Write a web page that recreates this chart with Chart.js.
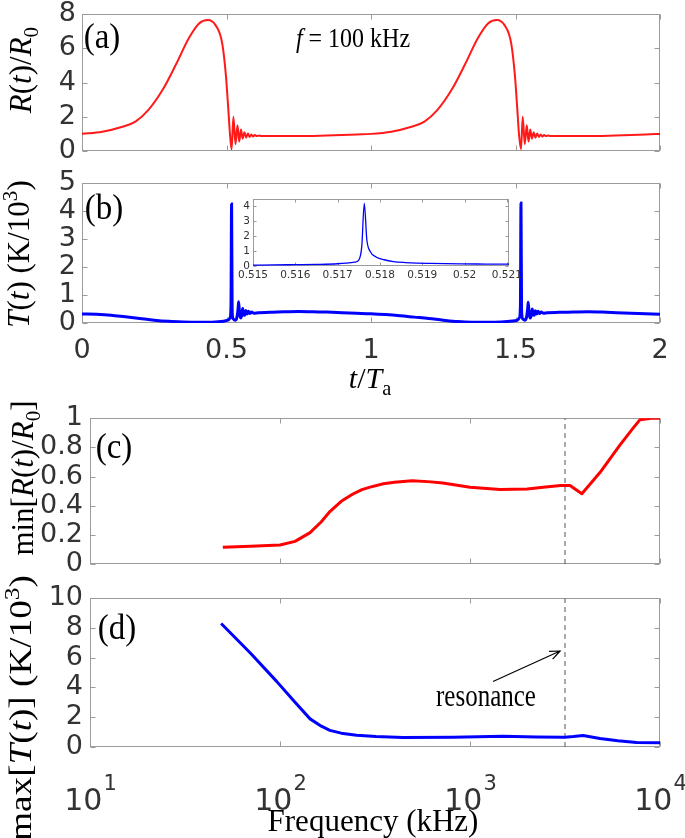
<!DOCTYPE html>
<html><head><meta charset="utf-8">
<script src="https://cdn.jsdelivr.net/npm/chart.js@4.4.1/dist/chart.umd.min.js"></script>
<style>
html,body{margin:0;padding:0;background:#fff;}
#wrap{position:relative;width:685px;height:838px;overflow:hidden;background:#fff;}
canvas{position:absolute;}
.c{position:absolute;white-space:nowrap;font-family:"Liberation Serif","Times New Roman",serif;color:#000;transform:translate(-50%,-50%);line-height:1;}
.r{transform:translate(-50%,-50%) rotate(-90deg);}
.c sub{font-size:0.68em;vertical-align:-0.35em;line-height:0;font-style:normal;}
.c sup{font-size:0.68em;vertical-align:0.55em;line-height:0;}
.c i{font-style:italic;}
</style></head><body><div id="wrap">
<canvas id="cA"></canvas>
<canvas id="cB"></canvas>
<canvas id="cE"></canvas>
<canvas id="cC"></canvas>
<canvas id="cD"></canvas>

<div class="c" style="left:102px;top:36px;font-size:33px;transform:translate(-50%,-50%) scaleY(1.1)">(a)</div>
<div class="c" style="left:104px;top:207px;font-size:33px;transform:translate(-50%,-50%) scaleY(1.1)">(b)</div>
<div class="c" style="left:114px;top:446px;font-size:33px;transform:translate(-50%,-50%) scaleY(1.1)">(c)</div>
<div class="c" style="left:117px;top:627px;font-size:33px;transform:translate(-50%,-50%) scaleY(1.1)">(d)</div>
<div class="c" style="left:353px;top:38px;font-size:24px;transform:translate(-50%,-50%) scaleY(1.15)"><i>f</i> = 100 kHz</div>

<div class="c r" style="left:20px;top:70px;font-size:31px"><i>R</i>(<i>t</i>)/<i>R</i><sub>0</sub></div>
<div class="c r" style="left:18px;top:254px;font-size:31px"><i>T</i>(<i>t</i>) (K/10<sup>3</sup>)</div>
<div class="c r" style="left:22px;top:478px;font-size:31px">min[<i>R</i>(<i>t</i>)/<i>R</i><sub>0</sub>]</div>
<div class="c" style="left:20px;top:708px;font-size:31px;transform:translate(-50%,-50%) rotate(-90deg) scaleX(1.2)">max[<i>T</i>(<i>t</i>)] (K/10<sup>3</sup>)</div>

<div class="c" style="left:370px;top:378px;font-size:30px"><i>t</i>/<i>T</i><sub>a</sub></div>
<div class="c" style="left:373px;top:820px;font-size:31px">Frequency (kHz)</div>
<div class="c" style="left:486px;top:695px;font-size:25px;transform:translate(-50%,-50%) scaleY(1.25)">resonance</div>
</div>
<script>
// ---------- data ----------
// (a) R(t)/R0 versus t/Ta
const tR = [0, 0.07, 0.14, 0.185, 0.23, 0.28, 0.325, 0.37, 0.405, 0.435, 0.462, 0.485, 0.498, 0.506, 0.512, 0.5176,
  0.524, 0.531, 0.538, 0.544, 0.55, 0.556, 0.562, 0.568, 0.574, 0.58, 0.586, 0.592, 0.598, 0.605, 0.612, 0.62, 0.7, 0.8, 0.9, 0.95,
  1.0, 1.07, 1.14, 1.185, 1.23, 1.28, 1.325, 1.37, 1.405, 1.435, 1.462, 1.485, 1.498, 1.506, 1.512, 1.519,
  1.525, 1.532, 1.539, 1.545, 1.551, 1.557, 1.563, 1.569, 1.575, 1.581, 1.587, 1.593, 1.599, 1.606, 1.613, 1.62, 1.7, 1.8, 1.9, 1.95, 2.0];
const R = [1.0, 1.13, 1.42, 1.72, 2.4, 3.6, 5.05, 6.6, 7.45, 7.65, 7.35, 6.3, 4.4, 2.5, 1.0, 0.1,
  2.0, 0.4, 1.5, 0.55, 1.25, 0.72, 1.1, 0.78, 1.02, 0.82, 0.97, 0.85, 0.93, 0.87, 0.9, 0.88, 0.87, 0.88, 0.93, 0.97,
  1.0, 1.13, 1.42, 1.72, 2.4, 3.6, 5.05, 6.6, 7.45, 7.65, 7.35, 6.3, 4.4, 2.5, 1.0, 0.1,
  2.0, 0.4, 1.5, 0.55, 1.25, 0.72, 1.1, 0.78, 1.02, 0.82, 0.97, 0.85, 0.93, 0.87, 0.9, 0.88, 0.87, 0.88, 0.93, 0.97, 1.0];

// (b) T(t) in K/10^3 versus t/Ta
const tT = [0, 0.05, 0.1, 0.15, 0.2, 0.25, 0.3, 0.35, 0.4, 0.45, 0.49, 0.505, 0.512, 0.5155, 0.5176, 0.5195, 0.523, 0.53, 0.536, 0.54, 0.542, 0.545, 0.549, 0.553, 0.556, 0.559, 0.563, 0.567, 0.571, 0.576, 0.581, 0.587, 0.595, 0.61, 0.65, 0.7, 0.75, 0.8, 0.85, 0.9, 0.95,
  1.0, 1.05, 1.1, 1.15, 1.2, 1.25, 1.3, 1.35, 1.4, 1.45, 1.49, 1.506, 1.513, 1.517, 1.519, 1.521, 1.525, 1.532, 1.538, 1.542, 1.544, 1.547, 1.551, 1.555, 1.558, 1.561, 1.565, 1.569, 1.573, 1.578, 1.583, 1.589, 1.597, 1.61, 1.65, 1.7, 1.75, 1.8, 1.85, 1.9, 1.95, 2.0];
const T = [0.32, 0.31, 0.28, 0.22, 0.16, 0.1, 0.06, 0.04, 0.03, 0.03, 0.06, 0.1, 0.18, 0.6, 4.25, 0.45, 0.15, 0.1, 0.2, 0.5, 0.76, 0.35, 0.18, 0.3, 0.52, 0.3, 0.28, 0.45, 0.32, 0.42, 0.34, 0.39, 0.35, 0.37, 0.38, 0.4, 0.41, 0.4, 0.39, 0.37, 0.35,
  0.33, 0.3, 0.26, 0.21, 0.16, 0.1, 0.05, 0.03, 0.03, 0.04, 0.07, 0.1, 0.18, 0.6, 4.29, 0.45, 0.15, 0.1, 0.2, 0.5, 0.74, 0.35, 0.18, 0.3, 0.5, 0.3, 0.28, 0.44, 0.32, 0.42, 0.34, 0.39, 0.35, 0.37, 0.38, 0.39, 0.4, 0.39, 0.37, 0.35, 0.33, 0.31];

// inset: zoom on the first temperature spike
const tInset = [0.515, 0.5155, 0.516, 0.5165, 0.517, 0.5172, 0.5174, 0.5175, 0.51757, 0.51763, 0.51769, 0.51777, 0.51792, 0.5181, 0.51832, 0.5186, 0.51887, 0.5192, 0.5199, 0.5205, 0.52105];
const TInset = [0.06, 0.07, 0.09, 0.11, 0.15, 0.19, 0.26, 0.4, 1.3, 4.2, 1.76, 0.97, 0.59, 0.42, 0.3, 0.23, 0.19, 0.17, 0.14, 0.13, 0.12];

// (c) min[R(t)/R0] versus frequency (kHz)
const freqC = [50, 70, 100, 120, 144, 165, 183, 210, 242, 270, 298, 350, 400, 495, 600, 720, 1000, 1440, 2000, 2500, 3000, 3360, 3880, 4830, 6150, 7200, 7850, 9000, 10000];
const minR = [0.115, 0.122, 0.13, 0.155, 0.215, 0.29, 0.36, 0.43, 0.48, 0.51, 0.527, 0.55, 0.56, 0.571, 0.565, 0.555, 0.527, 0.511, 0.515, 0.528, 0.538, 0.538, 0.482, 0.627, 0.815, 0.93, 0.99, 1.0, 1.0];

// (d) max[T(t)] (K/10^3) versus frequency (kHz)
const freqD = [49, 70, 96, 120, 144, 165, 183, 210, 253, 320, 444, 815, 1490, 2250, 3160, 3500, 3935, 4830, 6000, 7530, 10000];
const maxT = [8.3, 6.3, 4.41, 3.0, 1.89, 1.4, 1.12, 0.93, 0.79, 0.7, 0.64, 0.66, 0.72, 0.68, 0.66, 0.7, 0.77, 0.57, 0.42, 0.31, 0.28];

const resonanceFreq = 3162;
const arrowTail = [1322, 4.4];
const arrowTip = [2980, 6.45];

// ticks
const tTicks = [0, 0.5, 1, 1.5, 2];
const tTickLabels = ['0', '0.5', '1', '1.5', '2'];
const aYTicks = [0, 2, 4, 6, 8];
const aYLabels = ['0', '2', '4', '6', '8'];
const bYTicks = [0, 1, 2, 3, 4, 5];
const bYLabels = ['0', '1', '2', '3', '4', '5'];
const insetXTicks = [0.515, 0.516, 0.517, 0.518, 0.519, 0.52, 0.521];
const insetXLabels = ['0.515', '0.516', '0.517', '0.518', '0.519', '0.52', '0.521'];
const insetYTicks = [0, 1, 2, 3, 4];
const insetYLabels = ['0', '1', '2', '3', '4'];
const cYTicks = [0, 0.2, 0.4, 0.6, 0.8, 1];
const cYLabels = ['0', '0.2', '0.4', '0.6', '0.8', '1'];
const dYTicks = [0, 2, 4, 6, 8, 10];
const dYLabels = ['0', '2', '4', '6', '8', '10'];
const freqTicks = [10, 100, 1000, 10000];
const freqTickBase = ['10', '10', '10', '10'];
const freqTickExp = ['1', '2', '3', '4'];

// ---------- helpers ----------
const pts = (xs, ys) => xs.map((x, i) => ({x: x, y: ys[i]}));

const boxPlugin = {id: 'box', beforeDatasetsDraw(chart, args, o) {
  const {ctx, chartArea: a, scales} = chart;
  const x = scales.x, y = scales.y;
  ctx.save();
  ctx.strokeStyle = o.color; ctx.lineWidth = o.width;
  const l = Math.round(a.left) + 0.5, r = Math.round(a.right) - 0.5, t = Math.round(a.top) + 0.5, b = Math.round(a.bottom) - 0.5;
  ctx.strokeRect(l, t, r - l, b - t);
  ctx.beginPath();
  x.ticks.forEach(tk => { const p = Math.round(x.getPixelForValue(tk.value)) + 0.5;
    ctx.moveTo(p, b); ctx.lineTo(p, b - o.len); ctx.moveTo(p, t); ctx.lineTo(p, t + o.len); });
  y.ticks.forEach(tk => { const p = Math.round(y.getPixelForValue(tk.value)) + 0.5;
    ctx.moveTo(l, p); ctx.lineTo(l + o.len, p); ctx.moveTo(r, p); ctx.lineTo(r - o.len, p); });
  ctx.stroke();
  ctx.restore();
}};

const supLabels = {id: 'supLabels', afterDraw(chart) {
  const {ctx, chartArea: a, scales} = chart;
  const x = scales.x;
  ctx.save(); ctx.fillStyle = '#333'; ctx.textBaseline = 'alphabetic';
  freqTicks.forEach((v, i) => {
    const p = x.getPixelForValue(v);
    ctx.font = '30px "DejaVu Sans"'; const w1 = ctx.measureText(freqTickBase[i]).width;
    ctx.font = '21px "DejaVu Sans"'; const w2 = ctx.measureText(freqTickExp[i]).width;
    const x0 = p - (w1 + w2) / 2;
    ctx.font = '30px "DejaVu Sans"'; ctx.fillText(freqTickBase[i], x0, a.bottom + 63);
    ctx.font = '21px "DejaVu Sans"'; ctx.fillText(freqTickExp[i], x0 + w1 + 1, a.bottom + 43);
  });
  ctx.restore();
}};

const arrowPlugin = {id: 'arrow', afterDatasetsDraw(chart) {
  const {ctx, scales} = chart;
  const x = scales.x, y = scales.y;
  const x1 = x.getPixelForValue(arrowTail[0]), y1 = y.getPixelForValue(arrowTail[1]);
  const x2 = x.getPixelForValue(arrowTip[0]), y2 = y.getPixelForValue(arrowTip[1]);
  const ang = Math.atan2(y2 - y1, x2 - x1), h = 11;
  ctx.save(); ctx.strokeStyle = '#000'; ctx.lineWidth = 1.2;
  ctx.beginPath(); ctx.moveTo(x1, y1); ctx.lineTo(x2, y2);
  ctx.moveTo(x2 - h * Math.cos(ang - 0.4), y2 - h * Math.sin(ang - 0.4));
  ctx.lineTo(x2, y2);
  ctx.lineTo(x2 - h * Math.cos(ang + 0.4), y2 - h * Math.sin(ang + 0.4));
  ctx.stroke(); ctx.restore();
}};

function axis(s, dir, L) {
  return {
    type: s.type || 'linear', min: s.min, max: s.max,
    grid: {display: false, drawTicks: false}, border: {display: false},
    afterBuildTicks: sc => { sc.ticks = s.ticks.map(v => ({value: v})); },
    afterFit: sc => { if (dir === 'x') sc.height = L.top + L.h - L.plotB; else sc.width = L.plotL - L.left; },
    ticks: {display: !!s.labels, autoSkip: false, maxRotation: 0, minRotation: 0, padding: s.pad || 6,
      color: '#333', font: {family: 'DejaVu Sans', size: s.fs || 27},
      callback: (v, i) => (s.labels ? s.labels[i] : '')}
  };
}

function makeChart(id, L, datasets, sx, sy, extra) {
  const cv = document.getElementById(id);
  cv.width = L.w; cv.height = L.h;
  cv.style.left = L.left + 'px'; cv.style.top = L.top + 'px';
  cv.style.width = L.w + 'px'; cv.style.height = L.h + 'px';
  return new Chart(cv, {
    type: 'line',
    data: {datasets: datasets},
    options: {
      responsive: false, animation: false, events: [], devicePixelRatio: 1,
      layout: {padding: {left: 0, right: L.left + L.w - L.plotR, top: L.plotT - L.top, bottom: 0}},
      plugins: {legend: {display: false}, tooltip: {enabled: false}, box: {color: '#9b9b9b', width: 1, len: L.tick}},
      elements: {point: {radius: 0}},
      scales: {x: axis(sx, 'x', L), y: axis(sy, 'y', L)}
    },
    plugins: [boxPlugin].concat(extra || [])
  });
}

const smooth = (data, color, w) => ({data: data, borderColor: color, borderWidth: w, pointRadius: 0, fill: false, cubicInterpolationMode: 'monotone'});
const straight = (data, color, w) => ({data: data, borderColor: color, borderWidth: w, pointRadius: 0, fill: false, tension: 0, borderJoinStyle: 'round'});
const dashed = (x, y0, y1) => ({data: [{x: x, y: y0}, {x: x, y: y1}], borderColor: '#555', borderWidth: 1, borderDash: [5, 4], pointRadius: 0, fill: false});

// (a)
makeChart('cA', {left: 0, top: -10, w: 685, h: 185, plotL: 82, plotR: 660, plotT: 14, plotB: 151, tick: 5},
  [smooth(pts(tR, R), 'rgba(255,0,0,0.9)', 2)],
  {min: 0, max: 2, ticks: tTicks},
  {min: 0, max: 8, ticks: aYTicks, labels: aYLabels, pad: 6});

// (b)
makeChart('cB', {left: 0, top: 160, w: 685, h: 210, plotL: 82, plotR: 660, plotT: 183, plotB: 323, tick: 5},
  [smooth(pts(tT, T), '#0000ff', 3)],
  {min: 0, max: 2, ticks: tTicks, labels: tTickLabels, pad: 12},
  {min: 0, max: 5, ticks: bYTicks, labels: bYLabels, pad: 6});

// inset
makeChart('cE', {left: 200, top: 188, w: 330, h: 102, plotL: 253, plotR: 509, plotT: 199, plotB: 266, tick: 3},
  [smooth(pts(tInset, TInset), '#0000ff', 1.3)],
  {min: 0.515, max: 0.52105, ticks: insetXTicks, labels: insetXLabels, pad: 3, fs: 10.5},
  {min: 0, max: 4.5, ticks: insetYTicks, labels: insetYLabels, pad: 3, fs: 10.5});

// (c)
makeChart('cC', {left: 0, top: 395, w: 685, h: 195, plotL: 90, plotR: 660, plotT: 414, plotB: 564, tick: 5},
  [straight(pts(freqC, minR), '#ff0000', 3), dashed(resonanceFreq, 0, 1)],
  {type: 'logarithmic', min: 10, max: 10000, ticks: freqTicks},
  {min: 0, max: 1, ticks: cYTicks, labels: cYLabels, pad: 7});

// (d)
makeChart('cD', {left: 0, top: 575, w: 685, h: 263, plotL: 90, plotR: 660, plotT: 595, plotB: 747, tick: 5},
  [straight(pts(freqD, maxT), '#0000ff', 3), dashed(resonanceFreq, 0, 10)],
  {type: 'logarithmic', min: 10, max: 10000, ticks: freqTicks},
  {min: 0, max: 10, ticks: dYTicks, labels: dYLabels, pad: 7},
  [supLabels, arrowPlugin]);
</script>
</body></html>
